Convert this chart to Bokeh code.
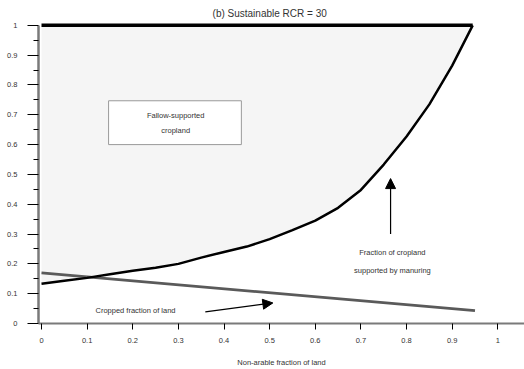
from bokeh.plotting import figure
from bokeh.models import Range1d, FixedTicker, Label, Arrow, NormalHead
from bokeh.embed import file_html
from bokeh.resources import INLINE

# ---- data ----
manure_x = [0, 0.05, 0.1, 0.15, 0.2, 0.25, 0.3, 0.35, 0.4, 0.45, 0.5, 0.55,
            0.6, 0.65, 0.7, 0.75, 0.8, 0.85, 0.9, 0.945]
manure_y = [0.133, 0.143, 0.153, 0.165, 0.177, 0.187, 0.200, 0.221, 0.240,
            0.258, 0.283, 0.313, 0.345, 0.388, 0.448, 0.533, 0.627, 0.735,
            0.865, 1.0]
top_x = [0, 0.945]
top_y = [1.0, 1.0]
crop_x = [0, 0.95]
crop_y = [0.17, 0.043]

x_ticks = [0, 0.1, 0.2, 0.3, 0.4, 0.5, 0.6, 0.7, 0.8, 0.9, 1.0]
x_tick_labels = ["0", "0.1", "0.2", "0.3", "0.4", "0.5", "0.6", "0.7", "0.8", "0.9", "1"]
y_ticks = [0, 0.1, 0.2, 0.3, 0.4, 0.5, 0.6, 0.7, 0.8, 0.9, 1.0]
y_tick_labels = ["0", "0.1", "0.2", "0.3", "0.4", "0.5", "0.6", "0.7", "0.8", "0.9", "1"]
y_minor = [0.05, 0.15, 0.25, 0.35, 0.45, 0.55, 0.65, 0.75, 0.85, 0.95]

title_text = "(b) Sustainable RCR = 30"
x_label = "Non-arable fraction of land"

FONT = "Liberation Sans"
TXT = "#333333"
FS = "7.5px"

p = figure(width=524, height=369, output_backend="svg", toolbar_location=None,
           x_range=Range1d(-0.0066, 1.0585), y_range=Range1d(0, 1.0833),
           min_border_left=38, min_border_right=0, min_border_top=0,
           min_border_bottom=44)
p.outline_line_color = None
p.xgrid.visible = False
p.ygrid.visible = False
p.background_fill_color = "white"

# x axis
xa = p.xaxis[0]
xa.ticker = FixedTicker(ticks=x_ticks, minor_ticks=[])
xa.major_label_overrides = {t: l for t, l in zip(x_ticks, x_tick_labels)}
xa.axis_line_color = "#7a7a7a"
xa.axis_line_width = 2
xa.major_tick_line_color = "black"
xa.major_tick_in = 0
xa.major_tick_out = 6
xa.minor_tick_line_color = None
xa.major_label_text_font = FONT
xa.major_label_text_font_size = FS
xa.major_label_text_color = TXT
xa.major_label_standoff = 8
xa.axis_label = x_label
xa.axis_label_text_font = FONT
xa.axis_label_text_font_size = FS
xa.axis_label_text_font_style = "normal"
xa.axis_label_text_color = TXT
xa.axis_label_standoff = 12

# y axis
ya = p.yaxis[0]
ya.ticker = FixedTicker(ticks=y_ticks, minor_ticks=y_minor)
ya.major_label_overrides = {t: l for t, l in zip(y_ticks, y_tick_labels)}
ya.bounds = (0, 1)
ya.axis_line_color = "#7a7a7a"
ya.axis_line_width = 2.5
ya.major_tick_line_color = "black"
ya.major_tick_line_width = 1.2
ya.major_tick_in = 0
ya.major_tick_out = 11
ya.minor_tick_line_color = "black"
ya.minor_tick_line_width = 1.2
ya.minor_tick_in = 0
ya.minor_tick_out = 5
ya.major_label_text_font = FONT
ya.major_label_text_font_size = FS
ya.major_label_text_color = TXT
ya.major_label_standoff = 10

# shaded region
p.varea(x=manure_x, y1=manure_y, y2=[1.0] * len(manure_x), fill_color="#f5f5f5")

p.line(crop_x, crop_y, line_color="#5a5a5a", line_width=2.8)
p.line(manure_x, manure_y, line_color="black", line_width=2.5)
p.line(top_x, top_y, line_color="black", line_width=3.5)

# box
p.quad(left=0.147, right=0.438, bottom=0.6, top=0.747,
       fill_color="white", line_color="#999999", line_width=1)

def lab(x, y, t, size=FS):
    p.add_layout(Label(x=x, y=y, text=t, text_font=FONT, text_font_size=size,
                       text_color=TXT, text_align="center", text_baseline="middle"))

lab(0.294, 0.697, "Fallow-supported")
lab(0.294, 0.647, "cropland")
lab(0.769, 0.237, "Fraction of cropland")
lab(0.769, 0.177, "supported by manuring")
lab(0.206, 0.043, "Cropped fraction of land")
lab(0.5, 1.04, title_text, size="10px")

p.add_layout(Arrow(end=NormalHead(size=10, fill_color="black", line_color="black"),
                   x_start=0.765, y_start=0.3, x_end=0.765, y_end=0.486,
                   line_color="black", line_width=1.2))
p.add_layout(Arrow(end=NormalHead(size=10, fill_color="black", line_color="black"),
                   x_start=0.359, y_start=0.039, x_end=0.507, y_end=0.069,
                   line_color="black", line_width=1.2))

open("out.html", "w").write(file_html(p, INLINE))
